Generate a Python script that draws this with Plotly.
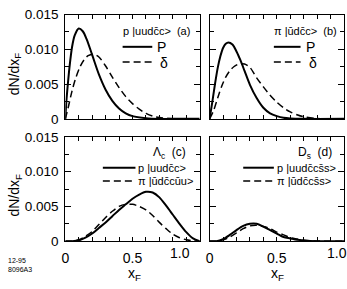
import plotly.graph_objects as go

# ---------------- data ----------------
# panel (a): p |uudc̄c>
a_P_x = [0, 0.01, 0.02, 0.03, 0.05, 0.07, 0.10, 0.13, 0.16, 0.20, 0.25, 0.30, 0.35, 0.40, 0.45, 0.50, 0.60, 0.70, 0.80, 1.0]
a_P_y = [0, 0.0030, 0.0052, 0.0072, 0.0103, 0.0120, 0.0130, 0.0126, 0.0114, 0.0092, 0.0064, 0.0042, 0.0026, 0.0015, 0.0008, 0.0004, 0.0001, 0.0, 0.0, 0.0]
a_D_x = [0, 0.02, 0.05, 0.08, 0.11, 0.14, 0.17, 0.21, 0.25, 0.30, 0.35, 0.40, 0.45, 0.50, 0.55, 0.60, 0.65, 0.70, 0.80, 1.0]
a_D_y = [0, 0.0015, 0.0040, 0.0060, 0.0075, 0.0085, 0.0091, 0.0093, 0.0089, 0.0076, 0.0060, 0.0045, 0.0032, 0.0022, 0.0014, 0.0008, 0.0004, 0.0002, 0.00003, 0.0]

# panel (b): π |ūdc̄c>
b_P_x = [0, 0.02, 0.04, 0.06, 0.08, 0.10, 0.12, 0.14, 0.17, 0.20, 0.23, 0.26, 0.30, 0.35, 0.40, 0.45, 0.50, 0.55, 0.60, 0.70, 1.0]
b_P_y = [0, 0.0024, 0.0050, 0.0073, 0.0090, 0.0102, 0.0108, 0.0110, 0.0107, 0.0097, 0.0084, 0.0069, 0.0049, 0.0030, 0.0016, 0.0008, 0.0004, 0.00015, 0.00005, 0.0, 0.0]
b_D_x = [0, 0.03, 0.06, 0.09, 0.12, 0.15, 0.18, 0.22, 0.26, 0.30, 0.35, 0.40, 0.45, 0.50, 0.55, 0.60, 0.65, 0.70, 0.80, 1.0]
b_D_y = [0, 0.0012, 0.0030, 0.0047, 0.0060, 0.0069, 0.0075, 0.0079, 0.0079, 0.0074, 0.0059, 0.0046, 0.0034, 0.0024, 0.0016, 0.0010, 0.0006, 0.0003, 0.00005, 0.0]

# panel (c): Λc
c_p_x = [0, 0.05, 0.10, 0.15, 0.20, 0.25, 0.30, 0.35, 0.40, 0.45, 0.50, 0.55, 0.60, 0.65, 0.70, 0.75, 0.80, 0.85, 0.90, 0.95, 1.0]
c_p_y = [0, 0, 0.0001, 0.0005, 0.0011, 0.0019, 0.0027, 0.0036, 0.0045, 0.0053, 0.0061, 0.0067, 0.0071, 0.0070, 0.0063, 0.0051, 0.0038, 0.0025, 0.0013, 0.0004, 0.0]
c_pi_x = [0, 0.05, 0.10, 0.15, 0.20, 0.25, 0.30, 0.35, 0.40, 0.45, 0.50, 0.55, 0.60, 0.65, 0.70, 0.75, 0.80, 0.85, 0.90, 0.95, 1.0]
c_pi_y = [0, 0, 0.0002, 0.0007, 0.0014, 0.0024, 0.0034, 0.0043, 0.0050, 0.0053, 0.0053, 0.0050, 0.0045, 0.0037, 0.0027, 0.0018, 0.0010, 0.0005, 0.0002, 0.00005, 0.0]

# panel (d): Ds
d_p_x = [0, 0.05, 0.10, 0.15, 0.20, 0.25, 0.30, 0.35, 0.40, 0.45, 0.50, 0.55, 0.60, 0.65, 0.70, 0.80, 1.0]
d_p_y = [0, 0, 0.0003, 0.0009, 0.0016, 0.0022, 0.0025, 0.0025, 0.0021, 0.0016, 0.0011, 0.0006, 0.0004, 0.0002, 0.0001, 0.0, 0.0]
d_pi_x = [0, 0.05, 0.10, 0.15, 0.20, 0.25, 0.30, 0.35, 0.40, 0.45, 0.50, 0.55, 0.60, 0.65, 0.70, 0.80, 1.0]
d_pi_y = [0, 0, 0.0002, 0.0006, 0.0012, 0.0018, 0.0022, 0.0023, 0.0021, 0.0018, 0.0013, 0.0009, 0.0005, 0.0003, 0.00012, 0.00002, 0.0]

y_tickvals = [0, 0.005, 0.010, 0.015]
y_ticktext = ["0", "0.005", "0.010", "0.015"]
x_tickvals = [0, 0.5]
x_ticktext = ["0", "0.5"]

# ---------------- layout helpers ----------------
W, H = 347, 289
FONT = "Liberation Sans, Arial, Helvetica, sans-serif"


def px(x):
    return x / W


def py(y):
    return 1 - y / H


cols = [(62, 198), (208, 344)]
rows = [(8, 118), (137, 247)]

fig = go.Figure()

solid = dict(color="black", width=2)
dashed = dict(color="black", width=1.5, dash="7px,4px")

series = [
    (1, a_P_x, a_P_y, solid), (1, a_D_x, a_D_y, dashed),
    (2, b_P_x, b_P_y, solid), (2, b_D_x, b_D_y, dashed),
    (3, c_p_x, c_p_y, solid), (3, c_pi_x, c_pi_y, dashed),
    (4, d_p_x, d_p_y, solid), (4, d_pi_x, d_pi_y, dashed),
]
for k, xs, ys, ln in series:
    suf = "" if k == 1 else str(k)
    fig.add_trace(go.Scatter(x=xs, y=ys, mode="lines", line=dict(shape="spline", smoothing=0.8, **ln),
                             xaxis="x" + suf, yaxis="y" + suf, showlegend=False, hoverinfo="skip"))

layout = {}
for k in range(1, 5):
    r = (k - 1) // 2
    c = (k - 1) % 2
    suf = "" if k == 1 else str(k)
    xa = dict(domain=[px(cols[c][0]), px(cols[c][1])], range=[0, 1.0], anchor="y" + suf,
              showline=True, mirror="allticks", linecolor="black", linewidth=1,
              ticks="inside", ticklen=4, tickcolor="black", tickwidth=1,
              tickvals=x_tickvals, ticktext=x_ticktext, showticklabels=(r == 1),
              tickfont=dict(family=FONT, size=14, color="black"), ticklabelstandoff=4,
              minor=dict(dtick=0.1, ticks="inside", ticklen=4, tickcolor="black", showgrid=False),
              showgrid=False, zeroline=False, fixedrange=True)
    ya = dict(domain=[py(rows[r][1]), py(rows[r][0])], range=[0, 0.015], anchor="x" + suf,
              showline=True, mirror="allticks", linecolor="black", linewidth=1,
              ticks="inside", ticklen=6, tickcolor="black", tickwidth=1,
              tickvals=y_tickvals, ticktext=y_ticktext, showticklabels=(c == 0),
              tickfont=dict(family=FONT, size=13.5, color="black"), ticklabelstandoff=3,
              minor=dict(dtick=0.0025, ticks="inside", ticklen=4, tickcolor="black", showgrid=False),
              showgrid=False, zeroline=False, fixedrange=True)
    layout["xaxis" + suf] = xa
    layout["yaxis" + suf] = ya

ann = []
shapes = []


def text(x, y, s, size=11, xanchor="left", angle=0):
    ann.append(dict(x=px(x), y=py(y), xref="paper", yref="paper", text=s, showarrow=False,
                    xanchor=xanchor, yanchor="middle", textangle=angle,
                    font=dict(family=FONT, size=size, color="black")))


def seg(x0, x1, y, ln):
    d = dict(color="black", width=ln["width"])
    if "dash" in ln:
        d["dash"] = ln["dash"]
    shapes.append(dict(type="line", xref="paper", yref="paper", x0=px(x0), x1=px(x1),
                       y0=py(y), y1=py(y), line=d))


CB = "c\u0304"
# panel a
text(118, 25, "p |uud" + CB + "c>  (a)", 11)
seg(120, 150, 42, solid)
text(153, 42, "P", 14)
seg(120, 150, 58, dashed)
text(156, 59, "δ", 14)
# panel b
text(271, 25, "π |\u016Bd" + CB + "c>  (b)", 11)
seg(273, 300, 42, solid)
text(304, 42, "P", 14)
seg(273, 300, 58, dashed)
text(307, 59, "δ", 14)
# panel c
text(186, 154, "Λ<sub>c</sub>  (c)", 12, xanchor="right")
seg(100, 133, 169.5, solid)
text(134, 170, "p |uud" + CB + "c>", 11)
seg(100, 133, 183.5, dashed)
text(134, 184, "π |\u016Bd" + CB + "c\u016Bu>", 11)
# panel d
text(334, 154, "D<sub>s</sub>  (d)", 12, xanchor="right")
seg(242, 273, 169.5, solid)
text(274, 170, "p |uud" + CB + "cs\u0304s>", 11)
seg(242, 273, 183.5, dashed)
text(274, 184, "π |\u016Bd" + CB + "cs\u0304s>", 11)

# axis titles
text(11, 70, "dN/dx<sub>F</sub>", 14, xanchor="center", angle=-90)
text(11, 198, "dN/dx<sub>F</sub>", 14, xanchor="center", angle=-90)
text(132, 282, "x<sub>F</sub>", 14, xanchor="center")
text(277, 282, "x<sub>F</sub>", 14, xanchor="center")
# shifted 1.0 tick labels
text(178, 259, "1.0", 14, xanchor="center")
text(337, 259, "1.0", 14, xanchor="center")
# figure id
ann.append(dict(x=px(2), y=py(272), xref="paper", yref="paper", text="12-95<br>8096A3",
                showarrow=False, xanchor="left", yanchor="middle", align="left",
                font=dict(family=FONT, size=7, color="black")))

fig.update_layout(width=W, height=H, margin=dict(l=0, r=0, t=0, b=0),
                  paper_bgcolor="white", plot_bgcolor="white",
                  annotations=ann, shapes=shapes, **layout)

fig.write_html("out.html", config=dict(displayModeBar=False),
               post_script="document.body.style.margin='0';document.body.style.overflow='hidden';")
